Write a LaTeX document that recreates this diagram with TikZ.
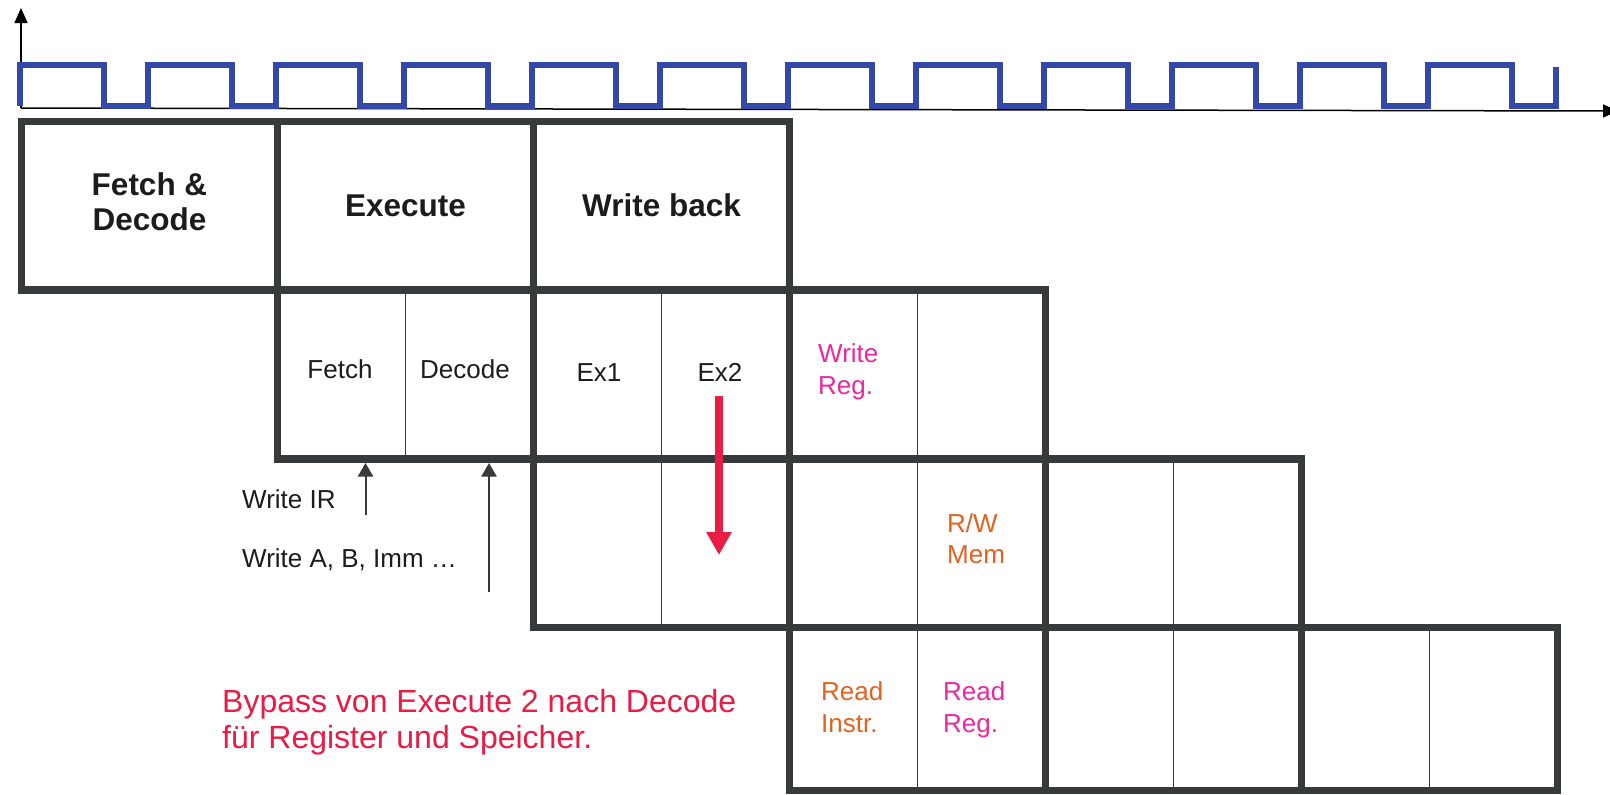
\documentclass[tikz,border=0pt]{standalone}
\usepackage{fontspec}
\setmainfont{Liberation Sans}
\usetikzlibrary{arrows.meta}
\definecolor{boxline}{RGB}{55,58,58}
\definecolor{clockblue}{RGB}{52,72,170}
\definecolor{bypassred}{RGB}{232,28,68}
\definecolor{regmagenta}{RGB}{234,40,160}
\definecolor{memorange}{RGB}{226,98,32}
\definecolor{inkdark}{RGB}{28,28,28}
\begin{document}
\begin{tikzpicture}[x=1pt,y=-1pt,
  heavy/.style={draw=boxline,line width=7.3pt,line join=miter},
  thinrule/.style={draw=boxline,line width=1.8pt},
  clockwave/.style={draw=clockblue,line width=6pt,line join=miter},
  axisline/.style={draw=black,line width=1.5pt,-{Triangle[length=15pt,width=13pt]}},
  wire/.style={draw=boxline,line width=2pt,-{Triangle[length=13.5pt,width=15pt]}},
  redarr/.style={draw=bypassred,line width=8pt,-{Triangle[length=23pt,width=24pt]}},
  head/.style={font=\bfseries\fontsize{31.5}{36}\selectfont,text=inkdark,inner sep=0pt,anchor=base},
  lbl/.style={font=\fontsize{26}{31}\selectfont,text=inkdark,inner sep=0pt,anchor=base},
  lblw/.style={lbl,anchor=base west},
  bypass/.style={font=\fontsize{32}{37}\selectfont,text=bypassred,inner sep=0pt,anchor=base west}
]
\useasboundingbox[fill=white] (0,0) rectangle (1610,795);

% axes
\coordinate (origin) at (21,108);
\coordinate (ytip) at (21,8);
\coordinate (xtip) at (1618,111);
\draw[axisline] (origin) -- (ytip);
\draw[axisline] (origin) -- (xtip);

% clock
\draw[clockwave] (20,106)
  \foreach \k in {0,...,11} {
    -- ({20+128*\k},65) -- ({104+128*\k},65) -- ({104+128*\k},106) -- ({148+128*\k},106)
  } -- (1556,67);

% thin sub-dividers
\draw[thinrule] (405.5,290) -- (405.5,459);
\draw[thinrule] (661.5,290) -- (661.5,459);
\draw[thinrule] (917.5,290) -- (917.5,459);
\draw[thinrule] (661.5,459) -- (661.5,627.5);
\draw[thinrule] (917.5,459) -- (917.5,627.5);
\draw[thinrule] (1173.5,459) -- (1173.5,627.5);
\draw[thinrule] (917.5,627.5) -- (917.5,790.5);
\draw[thinrule] (1173.5,627.5) -- (1173.5,790.5);
\draw[thinrule] (1429.5,627.5) -- (1429.5,790.5);

% row 1
\draw[heavy] (21.5,121.5) rectangle (789.5,290);
\draw[heavy] (277.5,121.5) -- (277.5,290);
\draw[heavy] (533.5,121.5) -- (533.5,290);
% row 2
\draw[heavy] (277.5,290) rectangle (1045.5,459);
\draw[heavy] (533.5,290) -- (533.5,459);
\draw[heavy] (789.5,290) -- (789.5,459);
% row 3
\draw[heavy] (533.5,459) rectangle (1301.5,627.5);
\draw[heavy] (789.5,459) -- (789.5,627.5);
\draw[heavy] (1045.5,459) -- (1045.5,627.5);
% row 4
\draw[heavy] (789.5,627.5) rectangle (1557.5,790.5);
\draw[heavy] (1045.5,627.5) -- (1045.5,790.5);
\draw[heavy] (1301.5,627.5) -- (1301.5,790.5);

% headings
\node[head] (fd1) at (149.5,195) {Fetch \&};
\node[head] (fd2) at (149.5,230.5) {Decode};
\node[head] (exe) at (405.5,216.5) {Execute};
\node[head] (wb) at (661.5,216.5) {Write back};

% row 2 labels
\node[lbl] (fetch) at (340,378) {Fetch};
\node[lbl] (decode) at (465,378) {Decode};
\node[lbl] (ex1) at (599,381) {Ex1};
\node[lbl] (ex2) at (720,381) {Ex2};
\node[lblw,text=regmagenta] (wreg1) at (818,362) {Write};
\node[lblw,text=regmagenta] (wreg2) at (818,394) {Reg.};

% row 3 labels
\node[lblw,text=memorange] (rw1) at (947,532) {R/W};
\node[lblw,text=memorange] (rw2) at (947,563) {Mem};

% row 4 labels
\node[lblw,text=memorange] (ri1) at (821,700) {Read};
\node[lblw,text=memorange] (ri2) at (821,732) {Instr.};
\node[lblw,text=regmagenta] (rr1) at (943,700) {Read};
\node[lblw,text=regmagenta] (rr2) at (943,732) {Reg.};

% write annotations
\node[lblw] (wir) at (242,508) {Write IR};
\node[lblw] (wab) at (242,567) {Write A, B, Imm …};
\coordinate (irA) at (365.5,515);
\coordinate (irB) at (365.5,463);
\coordinate (abA) at (489,592);
\coordinate (abB) at (489,463);
\draw[wire] (irA) -- (irB);
\draw[wire] (abA) -- (abB);

% bypass arrow
\coordinate (bpA) at (719,396);
\coordinate (bpB) at (719,555);
\draw[redarr] (bpA) -- (bpB);

% bypass text
\node[bypass] (bp1) at (222,712) {Bypass von Execute 2 nach Decode};
\node[bypass] (bp2) at (222,748) {für Register und Speicher.};
\end{tikzpicture}
\end{document}
